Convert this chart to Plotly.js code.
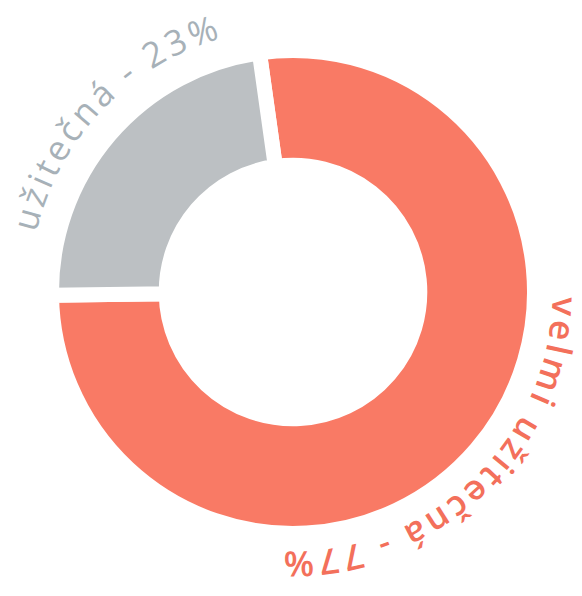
<!DOCTYPE html>
<html>
<head>
<meta charset="utf-8">
<script src="https://cdn.plot.ly/plotly-3.0.1.min.js"></script>
<style>html,body{margin:0;padding:0;background:#fff;}#chart{width:582px;height:596px;}</style>
</head>
<body>
<div id="chart"></div>
<script>
// Data
const labels = ["velmi užitečná", "užitečná"];
const values = [77, 23];
const sliceColors = ["#F97A65", "#BCC0C3"];
const labelTexts = ["velmi užitečná - 77%", "užitečná - 23%"];
const labelColors = ["#F3705B", "#A7B1B8"];
// label arcs (degrees clockwise from 12 o'clock): start, end
const labelArcs = [[91, 182], [283, 344]];
const labelGaps = [18, 22];

const trace = {
  type: "pie",
  labels: labels,
  values: values,
  sort: false,
  direction: "clockwise",
  rotation: -8,
  hole: 0.525,
  textinfo: "none",
  hoverinfo: "none",
  marker: { colors: sliceColors, line: { color: "#ffffff", width: 15 } },
  domain: { x: [0.0885, 0.9184], y: [0.1049, 0.9153] }
};

const layout = {
  width: 582, height: 596,
  margin: { l: 0, r: 0, t: 0, b: 0 },
  showlegend: false,
  paper_bgcolor: "#ffffff",
  plot_bgcolor: "#ffffff"
};

Plotly.newPlot("chart", [trace], layout, { displayModeBar: false, staticPlot: true }).then(function (gd) {
  const cd0 = gd.calcdata[0][0];
  const cx = cd0.cx, cy = cd0.cy, r = cd0.r;
  const svgNS = "http://www.w3.org/2000/svg";
  const svgs = gd.querySelectorAll(".main-svg");
  const svg = svgs[svgs.length - 1];
  const g = document.createElementNS(svgNS, "g");
  svg.appendChild(g);
  function pt(deg, rad) {
    const a = deg * Math.PI / 180;
    return [cx + rad * Math.sin(a), cy - rad * Math.cos(a)];
  }
  labelTexts.forEach(function (txt, i) {
    const rb = r + labelGaps[i]; // baseline radius outside the ring
    const a0 = labelArcs[i][0], a1 = labelArcs[i][1];
    const s = pt(a0 - 5, rb), e = pt(a1 + 5, rb);
    const path = document.createElementNS(svgNS, "path");
    path.setAttribute("id", "arc" + i);
    path.setAttribute("d", "M" + s[0] + "," + s[1] + " A" + rb + "," + rb + " 0 0 1 " + e[0] + "," + e[1]);
    path.setAttribute("fill", "none");
    g.appendChild(path);
    const text = document.createElementNS(svgNS, "text");
    text.setAttribute("font-family", "'Open Sans', 'Noto Sans', sans-serif");
    text.setAttribute("font-size", "35");
    text.setAttribute("font-weight", i === 0 ? "600" : "400");
    text.setAttribute("fill", labelColors[i]);
    const tp = document.createElementNS(svgNS, "textPath");
    tp.setAttribute("href", "#arc" + i);
    tp.setAttributeNS("http://www.w3.org/1999/xlink", "xlink:href", "#arc" + i);
    tp.setAttribute("startOffset", (5 * Math.PI / 180 * rb).toFixed(2));
    tp.setAttribute("textLength", ((a1 - a0) * Math.PI / 180 * rb).toFixed(2));
    tp.setAttribute("lengthAdjust", "spacing");
    tp.textContent = txt;
    text.appendChild(tp);
    g.appendChild(text);
  });
});
</script>
</body>
</html>
